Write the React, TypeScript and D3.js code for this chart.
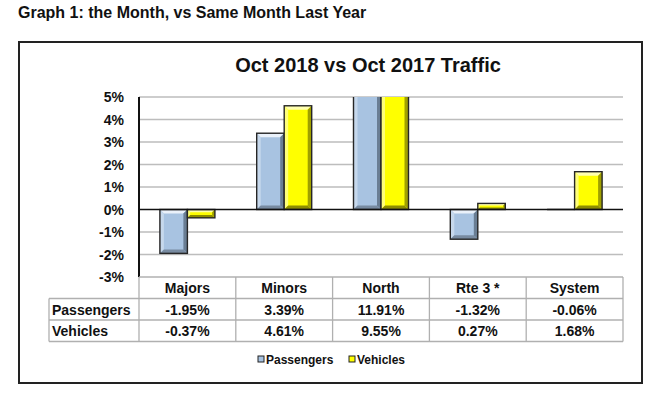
import React from 'react';
import * as d3 from 'd3';

const categories = ['Majors', 'Minors', 'North', 'Rte 3 *', 'System'];
const seriesNames = ['Passengers', 'Vehicles'];
const passengers = [-1.95, 3.39, 11.91, -1.32, -0.06];
const vehicles = [-0.37, 4.61, 9.55, 0.27, 1.68];
const yTicks = [5, 4, 3, 2, 1, 0, -1, -2, -3];

const FONT = 'Liberation Sans, Arial, sans-serif';

// bevel colours per series: face, top, left, right, bottom
const bevel = {
  Passengers: { face: '#a8c3e1', top: '#eaf1fa', left: '#c6d8ec', right: '#6a7e94', bottom: '#788ba1' },
  Vehicles: { face: '#ffff00', top: '#ffffb0', left: '#ffff78', right: '#a0a000', bottom: '#8e8e00' },
};

const Bar = ({ x, y, w, h, c }) => {
  if (h < 1.5) {
    return <line x1={x} x2={x + w} y1={y} y2={y} stroke="#222" strokeWidth={1.5} />;
  }
  const b = Math.min(4, w / 4, h / 3);
  const x2 = x + w, y2 = y + h;
  const pts = (a) => a.map(p => p.join(',')).join(' ');
  return (
    <g>
      <rect x={x} y={y} width={w} height={h} fill={c.face} />
      <polygon points={pts([[x, y], [x2, y], [x2 - b, y + b], [x + b, y + b]])} fill={c.top} />
      <polygon points={pts([[x, y], [x + b, y + b], [x + b, y2 - b], [x, y2]])} fill={c.left} />
      <polygon points={pts([[x2, y], [x2, y2], [x2 - b, y2 - b], [x2 - b, y + b]])} fill={c.right} />
      <polygon points={pts([[x, y2], [x + b, y2 - b], [x2 - b, y2 - b], [x2, y2]])} fill={c.bottom} />
      <rect x={x} y={y} width={w} height={h} fill="none" stroke="#262626" strokeWidth={1.4} />
    </g>
  );
};

export default function App() {
  const plotLeft = 139, plotRight = 623, plotTop = 97, plotBottom = 277;
  const labelLeft = 49;
  const rowH = 21.5;

  const x = d3.scaleBand().domain(categories).range([plotLeft, plotRight]).padding(0);
  const xs = d3.scaleBand().domain(seriesNames).range([0, x.bandwidth()]).paddingInner(0).paddingOuter(0.76);
  const y = d3.scaleLinear().domain([-3, 5]).range([plotBottom, plotTop]);

  const data = [passengers, vehicles];
  const rows = [{ name: 'Passengers', vals: passengers }, { name: 'Vehicles', vals: vehicles }];
  const fmt = (v) => v.toFixed(2) + '%';

  return (
    <svg width={660} height={398} style={{ position: 'absolute', left: 0, top: 0, background: '#fff' }} fontFamily={FONT}>
      <defs>
        <clipPath id="plotClip">
          <rect x={plotLeft} y={plotTop} width={plotRight - plotLeft} height={plotBottom - plotTop} />
        </clipPath>
      </defs>
      <text x={18} y={18} fontSize={16} fontWeight="bold" fill="#111">Graph 1: the Month, vs Same Month Last Year</text>
      <rect x={19} y={42} width={623} height={341} fill="none" stroke="#222" strokeWidth={2} />
      <text x={368} y={72} fontSize={20} fontWeight="bold" textAnchor="middle" fill="#111">Oct 2018 vs Oct 2017 Traffic</text>

      {/* grid */}
      {yTicks.filter(t => t !== 0 && t !== -3).map(t => (
        <line key={t} x1={plotLeft} x2={plotRight} y1={y(t)} y2={y(t)} stroke="#bdbdbd" strokeWidth={1.3} />
      ))}
      {yTicks.map(t => (
        <text key={'l' + t} x={124} y={y(t) + 5} fontSize={14} fontWeight="bold" textAnchor="end" fill="#111">{t + '%'}</text>
      ))}

      {/* bars */}
      <g clipPath="url(#plotClip)">
        {categories.map((cat, i) => seriesNames.map((s, j) => {
          const v = data[j][i];
          const y0 = y(0), y1 = y(v);
          return (
            <Bar key={cat + s} x={x(cat) + xs(s)} y={Math.min(y0, y1)} w={xs.bandwidth()} h={Math.abs(y1 - y0)} c={bevel[s]} />
          );
        }))}
      </g>

      <line x1={plotLeft} x2={plotRight} y1={y(0)} y2={y(0)} stroke="#111" strokeWidth={1.6} />
      <line x1={plotLeft} x2={plotLeft} y1={plotTop} y2={plotBottom} stroke="#111" strokeWidth={2} />

      {/* data table */}
      <g stroke="#b0b0b0" strokeWidth={1.3} fill="none">
        <line x1={plotLeft} x2={plotRight} y1={plotBottom} y2={plotBottom} />
        <line x1={labelLeft} x2={plotRight} y1={plotBottom + rowH} y2={plotBottom + rowH} />
        <line x1={labelLeft} x2={plotRight} y1={plotBottom + rowH * 2} y2={plotBottom + rowH * 2} />
        <line x1={labelLeft} x2={plotRight} y1={plotBottom + rowH * 3} y2={plotBottom + rowH * 3} />
        <line x1={labelLeft} x2={labelLeft} y1={plotBottom + rowH} y2={plotBottom + rowH * 3} />
        {categories.map(c => (
          <line key={c} x1={x(c)} x2={x(c)} y1={plotBottom} y2={plotBottom + rowH * 3} />
        ))}
        <line x1={plotRight} x2={plotRight} y1={plotBottom} y2={plotBottom + rowH * 3} />
      </g>
      {categories.map(c => (
        <text key={'h' + c} x={x(c) + x.bandwidth() / 2} y={plotBottom + 16} fontSize={14} fontWeight="bold" textAnchor="middle" fill="#111">{c}</text>
      ))}
      {rows.map((r, ri) => (
        <g key={r.name}>
          <text x={labelLeft + 3} y={plotBottom + rowH * (ri + 1) + 16} fontSize={14} fontWeight="bold" fill="#111">{r.name}</text>
          {categories.map((c, i) => (
            <text key={c} x={x(c) + x.bandwidth() / 2} y={plotBottom + rowH * (ri + 1) + 16} fontSize={14} fontWeight="bold" textAnchor="middle" fill="#111">{fmt(r.vals[i])}</text>
          ))}
        </g>
      ))}

      {/* legend */}
      {seriesNames.map((s, i) => {
        const lx = i === 0 ? 258 : 349;
        return (
          <g key={s}>
            <rect x={lx} y={356} width={6} height={6} fill={bevel[s].face} stroke="#222" strokeWidth={1} />
            <text x={lx + 8} y={364} fontSize={12} fontWeight="bold" fill="#111">{s}</text>
          </g>
        );
      })}
    </svg>
  );
}
